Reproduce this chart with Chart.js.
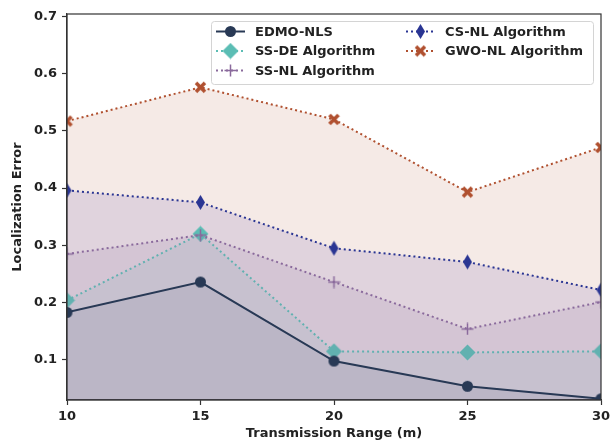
<!DOCTYPE html>
<html>
<head>
<meta charset="utf-8">
<script src="https://cdn.jsdelivr.net/npm/chart.js@4"></script>
<style>
html, body { margin: 0; background: #fff; }
#wrap { width: 614px; height: 441px; }
</style>
</head>
<body>
<div id="wrap"><canvas id="c"></canvas></div>
<script>
// data
const ranges = [10, 15, 20, 25, 30];
const edmoNls = [0.183, 0.236, 0.098, 0.054, 0.032];
const ssDe = [0.204, 0.320, 0.115, 0.113, 0.115];
const ssNl = [0.285, 0.318, 0.236, 0.154, 0.201];
const csNl = [0.396, 0.375, 0.295, 0.271, 0.222];
const gwoNl = [0.517, 0.576, 0.520, 0.393, 0.471];
const names = ['EDMO-NLS', 'SS-DE Algorithm', 'SS-NL Algorithm', 'CS-NL Algorithm', 'GWO-NL Algorithm'];
const xTicks = [10, 15, 20, 25, 30];
const yTicks = [0.1, 0.2, 0.3, 0.4, 0.5, 0.6, 0.7];

const navy = '#283955', teal = '#5bbdb4', purple = '#8a6a9c', blue = '#2a3593', sienna = '#b0502f';

function marker(w, h, draw) {
    let c = document.createElement('canvas');
    c.width = w; c.height = h;
    draw(c.getContext('2d'), w / 2, h / 2);
    return c;
}
const mCircle = marker(13, 13, (g, cx, cy) => {
    g.fillStyle = navy; g.beginPath(); g.arc(cx, cy, 5.5, 0, Math.PI * 2); g.fill();
});
const mDiamond = marker(17, 17, (g, cx, cy) => {
    g.fillStyle = teal; g.beginPath();
    g.moveTo(cx, cy - 8); g.lineTo(cx + 8, cy); g.lineTo(cx, cy + 8); g.lineTo(cx - 8, cy); g.closePath(); g.fill();
});
const mPlus = marker(13, 13, (g, cx, cy) => {
    g.strokeStyle = purple; g.lineWidth = 1.5; g.beginPath();
    g.moveTo(cx - 6, cy); g.lineTo(cx + 6, cy); g.moveTo(cx, cy - 6); g.lineTo(cx, cy + 6); g.stroke();
});
const mThin = marker(11, 17, (g, cx, cy) => {
    g.fillStyle = blue; g.beginPath();
    g.moveTo(cx, cy - 7.5); g.lineTo(cx + 4.5, cy); g.lineTo(cx, cy + 7.5); g.lineTo(cx - 4.5, cy); g.closePath(); g.fill();
});
const mX = marker(13, 13, (g, cx, cy) => {
    g.strokeStyle = sienna; g.lineWidth = 3.6; g.beginPath();
    g.moveTo(cx - 4.5, cy - 4.5); g.lineTo(cx + 4.5, cy + 4.5);
    g.moveTo(cx + 4.5, cy - 4.5); g.lineTo(cx - 4.5, cy + 4.5); g.stroke();
});

function ds(label, vals, color, fillA, style, dash, order) {
    return {
        label: label,
        data: vals.map((v, i) => ({ x: ranges[i], y: v })),
        borderColor: color,
        backgroundColor: fillA,
        borderWidth: 2,
        borderDash: dash,
        pointStyle: style,
        pointRadius: 6,
        fill: 'origin',
        tension: 0,
        order: order
    };
}

const frameAndLegend = {
    id: 'frameAndLegend',
    afterDraw(chart) {
        const g = chart.ctx, a = chart.chartArea;
        g.save();
        g.strokeStyle = '#333';
        g.lineWidth = 1.2;
        g.strokeRect(a.left, a.top, a.right - a.left, a.bottom - a.top);

        // legend box, two columns like the original
        g.fillStyle = 'rgba(255,255,255,0.85)';
        g.strokeStyle = '#d4d4d4';
        g.lineWidth = 1;
        g.beginPath();
        g.roundRect(211.5, 21.5, 382, 63, 3);
        g.fill(); g.stroke();

        const items = [
            [216, 31.5, 0], [216, 51, 1], [216, 70.5, 2],
            [406, 31.5, 3], [406, 51, 4]
        ];
        const marks = [mCircle, mDiamond, mPlus, mThin, mX];
        g.font = 'bold 13px "DejaVu Sans"';
        g.textBaseline = 'middle';
        items.forEach(([x, y, i]) => {
            const d = chart.data.datasets[i];
            g.strokeStyle = d.borderColor;
            g.lineWidth = 2;
            g.setLineDash(d.borderDash);
            g.beginPath(); g.moveTo(x, y); g.lineTo(x + 29, y); g.stroke();
            g.setLineDash([]);
            const m = marks[i];
            g.drawImage(m, x + 14.5 - m.width / 2, y - m.height / 2);
            g.fillStyle = '#222';
            g.fillText(d.label, x + 39, y + 1);
        });
        g.restore();
    }
};

new Chart(document.getElementById('c'), {
    type: 'line',
    data: {
        datasets: [
            ds(names[0], edmoNls, navy, 'rgba(40,57,85,0.08)', mCircle, [], 1),
            ds(names[1], ssDe, teal, 'rgba(91,189,180,0.10)', mDiamond, [2, 3], 3),
            ds(names[2], ssNl, purple, 'rgba(138,106,156,0.14)', mPlus, [2, 3], 2),
            ds(names[3], csNl, blue, 'rgba(70,50,160,0.12)', mThin, [2, 3], 4),
            ds(names[4], gwoNl, sienna, 'rgba(176,80,47,0.12)', mX, [2, 3], 5)
        ]
    },
    options: {
        responsive: true,
        maintainAspectRatio: false,
        animation: false,
        layout: { padding: { top: 14, right: 13, left: 0, bottom: 0 } },
        plugins: {
            legend: { display: false },
            tooltip: { enabled: false }
        },
        scales: {
            x: {
                type: 'linear',
                min: 10,
                max: 30,
                afterBuildTicks: s => { s.ticks = xTicks.map(v => ({ value: v })); },
                afterFit: s => { s.height = 41; s.paddingRight = 0; s.paddingLeft = 0; },
                grid: { drawOnChartArea: false, tickLength: 5, color: '#333', tickWidth: 1.2 },
                border: { color: '#333', width: 1.2 },
                ticks: { color: '#222', font: { family: 'DejaVu Sans', size: 13, weight: 'bold' }, padding: 4 },
                title: { display: true, text: 'Transmission Range (m)', color: '#222', font: { family: 'DejaVu Sans', size: 13, weight: 'bold' }, padding: { top: 0, bottom: 0 } }
            },
            y: {
                min: 0.03,
                max: 0.704,
                afterBuildTicks: s => { s.ticks = yTicks.map(v => ({ value: v })); },
                afterFit: s => { s.width = 67; },
                grid: { drawOnChartArea: false, tickLength: 5, color: '#333', tickWidth: 1.2 },
                border: { color: '#333', width: 1.2 },
                ticks: { color: '#222', font: { family: 'DejaVu Sans', size: 13, weight: 'bold' }, padding: 5, callback: v => v.toFixed(1) },
                title: { display: true, text: 'Localization Error', color: '#222', font: { family: 'DejaVu Sans', size: 13, weight: 'bold' }, padding: { top: 10, bottom: 0 } }
            }
        }
    },
    plugins: [frameAndLegend]
});
</script>
</body>
</html>
